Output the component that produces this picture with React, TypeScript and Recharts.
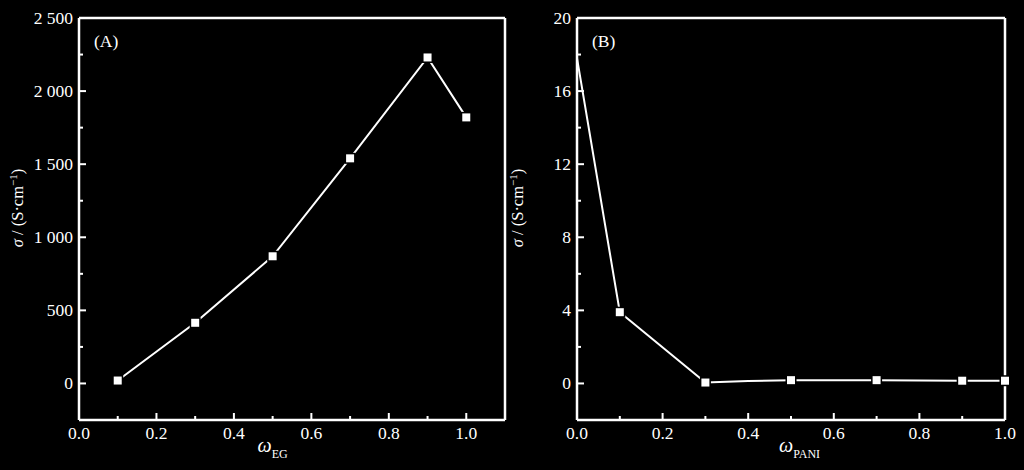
import { LineChart, Line, XAxis, YAxis, ReferenceLine } from "recharts";

const FONT = '"Liberation Serif", "DejaVu Serif", serif';

// panel (A): conductivity vs EG mass fraction
const egFraction = [0.1, 0.3, 0.5, 0.7, 0.9, 1.0];
const egConductivity = [20, 415, 870, 1540, 2230, 1820];

// panel (B): conductivity vs PANI mass fraction
const paniFraction = [0, 0.1, 0.3, 0.4, 0.5, 0.7, 0.9, 1.0];
const paniConductivity = [17.8, 3.9, 0.05, 0.14, 0.18, 0.18, 0.15, 0.15];
const paniUnmarked = [0, 0.4];

const xTicksA = [0, 0.1, 0.2, 0.3, 0.4, 0.5, 0.6, 0.7, 0.8, 0.9, 1.0];
const xTicksB = [0, 0.1, 0.2, 0.3, 0.4, 0.5, 0.6, 0.7, 0.8, 0.9, 1.0];
const xLabelTicks = [0, 0.2, 0.4, 0.6, 0.8, 1.0];
const yTicksA = [0, 250, 500, 750, 1000, 1250, 1500, 1750, 2000, 2250, 2500];
const yLabelTicksA = [0, 500, 1000, 1500, 2000, 2500];
const yTicksB = [0, 2, 4, 6, 8, 10, 12, 14, 16, 18, 20];
const yLabelTicksB = [0, 4, 8, 12, 16, 20];

const dataA = egFraction.map((x, i) => ({ x, y: egConductivity[i] }));
const dataB = paniFraction.map((x, i) => ({ x, y: paniConductivity[i] }));

function fmtThousands(v: number) {
  if (v < 1000) return String(v);
  const k = Math.floor(v / 1000);
  const r = String(v % 1000).padStart(3, "0");
  return `${k} ${r}`;
}

function makeXTick(labels: number[]) {
  return (props: any) => {
    const { x, y, payload } = props;
    const major = labels.includes(payload.value);
    return (
      <g>
        <line x1={x} x2={x} y1={y} y2={y - (major ? 7 : 4)} stroke="#fff" strokeWidth={2} />
        {major && (
          <text x={x} y={y + 19} textAnchor="middle" fill="#fff" fontSize={17.5} fontFamily={FONT}>
            {payload.value.toFixed(1)}
          </text>
        )}
      </g>
    );
  };
}

function makeYTick(labels: number[]) {
  return (props: any) => {
    const { x, y, payload } = props;
    const major = labels.includes(payload.value);
    return (
      <g>
        <line x1={x} x2={x + (major ? 7 : 4)} y1={y} y2={y} stroke="#fff" strokeWidth={2} />
        {major && (
          <text x={x - 6} y={y + 5.5} textAnchor="end" fill="#fff" fontSize={17.5} fontFamily={FONT}>
            {fmtThousands(payload.value)}
          </text>
        )}
      </g>
    );
  };
}

function makeDot(skip: number[]) {
  return (props: any) => {
    const { cx, cy, payload, index } = props;
    if (skip.includes(payload.x)) return <g key={index} />;
    return (
      <rect key={index} x={cx - 4} y={cy - 4} width={8} height={8} fill="#fff" stroke="#000" strokeWidth={3} paintOrder="stroke" />
    );
  };
}

function yTitle(props: any) {
  const vb = props.viewBox;
  const cx = vb.x + 23;
  const cy = vb.y + vb.height / 2 - 11;
  return (
    <text x={cx} y={cy} transform={`rotate(-90, ${cx}, ${cy})`} textAnchor="middle" fill="#fff" fontSize={16.5} fontFamily={FONT}>
      <tspan fontStyle="italic">σ</tspan>
      <tspan> / (S·cm</tspan>
      <tspan dy={-6} fontSize={11}>−1</tspan>
      <tspan dy={6}>)</tspan>
    </text>
  );
}

function xTitle(sub: string, frac: number) {
  return (props: any) => {
    const vb = props.viewBox;
    const cx = vb.x + vb.width * frac;
    return (
      <text x={cx} y={vb.y + 32} textAnchor="middle" fill="#fff" fontFamily={FONT}>
        <tspan fontStyle="italic" fontSize={20}>ω</tspan>
        <tspan fontSize={12} dy={6}>{sub}</tspan>
      </text>
    );
  };
}

function panelTag(tag: string) {
  return (props: any) => {
    const vb = props.viewBox;
    return (
      <text x={vb.x + 15} y={vb.y + 29} fill="#fff" fontSize={17.5} fontFamily={FONT}>
        {tag}
      </text>
    );
  };
}

const axisLine = { stroke: "#fff", strokeWidth: 2.5 };

export default function App() {
  return (
    <div style={{ position: "absolute", left: 0, top: 0, width: 1024, height: 470, background: "#000", overflow: "hidden" }}>
      <div style={{ position: "absolute", left: 0, top: 0 }}>
        <LineChart width={520} height={470} data={dataA} margin={{ top: 18, right: 15, bottom: 0, left: 0 }}>
          <XAxis
            dataKey="x"
            type="number"
            domain={[0, 1.1]}
            ticks={xTicksA}
            height={50}
            tickSize={0}
            tickMargin={0}
            tickLine={false}
            axisLine={axisLine}
            tick={makeXTick(xLabelTicks)}
            interval={0}
            label={{ content: xTitle("EG", 0.5 / 1.1) }}
          />
          <YAxis
            type="number"
            domain={[-250, 2500]}
            ticks={yTicksA}
            width={79}
            tickSize={0}
            tickMargin={0}
            tickLine={false}
            axisLine={axisLine}
            tick={makeYTick(yLabelTicksA)}
            interval={0}
            label={{ content: yTitle }}
          />
          <ReferenceLine y={2500} stroke="#fff" strokeWidth={2.5} label={{ content: panelTag("(A)") }} />
          <ReferenceLine x={1.1} stroke="#fff" strokeWidth={2.5} />
          <Line dataKey="y" stroke="#fff" strokeWidth={2} dot={makeDot([])} isAnimationActive={false} />
        </LineChart>
      </div>
      <div style={{ position: "absolute", left: 500, top: 0 }}>
        <LineChart width={524} height={470} data={dataB} margin={{ top: 18, right: 19, bottom: 0, left: 0 }}>
          <XAxis
            dataKey="x"
            type="number"
            domain={[0, 1.0]}
            ticks={xTicksB}
            height={50}
            tickSize={0}
            tickMargin={0}
            tickLine={false}
            axisLine={axisLine}
            tick={makeXTick(xLabelTicks)}
            interval={0}
            label={{ content: xTitle("PANI", 0.52) }}
          />
          <YAxis
            type="number"
            domain={[-2, 20]}
            ticks={yTicksB}
            width={77}
            tickSize={0}
            tickMargin={0}
            tickLine={false}
            axisLine={axisLine}
            tick={makeYTick(yLabelTicksB)}
            interval={0}
            label={{ content: yTitle }}
          />
          <ReferenceLine y={20} stroke="#fff" strokeWidth={2.5} label={{ content: panelTag("(B)") }} />
          <ReferenceLine x={1.0} stroke="#fff" strokeWidth={2.5} />
          <Line dataKey="y" stroke="#fff" strokeWidth={2} dot={makeDot(paniUnmarked)} isAnimationActive={false} />
        </LineChart>
      </div>
    </div>
  );
}
